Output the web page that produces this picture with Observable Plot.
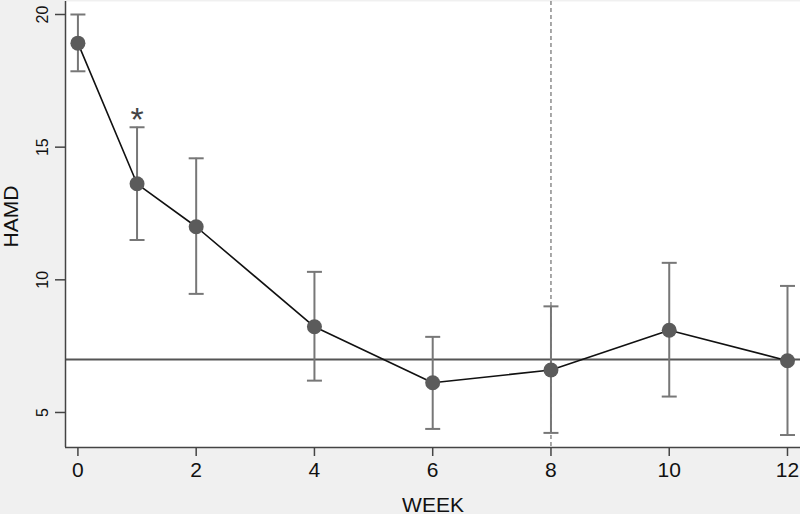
<!DOCTYPE html>
<html>
<head>
<meta charset="utf-8">
<script src="https://cdn.jsdelivr.net/npm/d3@7"></script>
<script src="https://cdn.jsdelivr.net/npm/@observablehq/plot@0.6"></script>
<style>
  html, body { margin: 0; padding: 0; background: #f0f0f0; }
  #chart svg { display: block; }
</style>
</head>
<body>
<div id="chart"></div>
<script>
const weeks = [0, 1, 2, 4, 6, 8, 10, 12];
const hamdMean = [18.92, 13.62, 12.0, 8.23, 6.12, 6.6, 8.1, 6.95];
const hamdLow = [17.86, 11.5, 9.47, 6.2, 4.38, 4.23, 5.6, 4.15];
const hamdHigh = [20.0, 15.75, 14.58, 10.3, 7.85, 9.0, 10.64, 9.77];
const xTicks = [0, 2, 4, 6, 8, 10, 12];
const yTicks = [5, 10, 15, 20];
const referenceLevel = [7];
const referenceWeek = [8];
const starWeeks = [1];
const starLabels = ["*"];
const xDomain = [-0.21, 12.22];
const yDomain = [3.68, 20.49];

const data = weeks.map((w, i) => ({week: w, mean: hamdMean[i], lo: hamdLow[i], hi: hamdHigh[i]}));
const stars = starWeeks.map((w, i) => ({week: w, label: starLabels[i], y: hamdHigh[weeks.indexOf(w)]}));

const capSymbol = {draw(ctx) { ctx.moveTo(-7.5, 0); ctx.lineTo(7.5, 0); }};
const font = "Liberation Sans, Arial, Helvetica, sans-serif";

const chart = Plot.plot({
  width: 800,
  height: 514,
  marginLeft: 65,
  marginRight: 0,
  marginTop: 1,
  marginBottom: 67,
  style: {background: "#f0f0f0", fontFamily: font},
  x: {domain: xDomain, ticks: xTicks},
  y: {domain: yDomain, ticks: yTicks},
  marks: [
    Plot.frame({fill: "white", stroke: "none"}),
    Plot.ruleX(referenceWeek, {stroke: "#7a7a7a", strokeWidth: 1.3, strokeDasharray: "4,3"}),
    Plot.ruleY(referenceLevel, {stroke: "#555", strokeWidth: 2}),
    Plot.ruleX(data, {x: "week", y1: "lo", y2: "hi", stroke: "#777", strokeWidth: 2}),
    Plot.dot(data, {x: "week", y: "lo", symbol: capSymbol, stroke: "#777", strokeWidth: 2, r: 5}),
    Plot.dot(data, {x: "week", y: "hi", symbol: capSymbol, stroke: "#777", strokeWidth: 2, r: 5}),
    Plot.line(data, {x: "week", y: "mean", stroke: "#111", strokeWidth: 1.6}),
    Plot.dot(data, {x: "week", y: "mean", r: 7.5, fill: "#5b5b5b", stroke: "none"}),
    Plot.text(stars, {x: "week", y: "y", text: "label", dy: -7, fontSize: 34, fill: "#444", fontFamily: font}),
    Plot.ruleX([xDomain[0]], {stroke: "#444", strokeWidth: 1.5}),
    Plot.ruleY([yDomain[0]], {stroke: "#444", strokeWidth: 1.5}),
    Plot.axisX({ticks: xTicks, tickSize: 9, tickPadding: 6, fontSize: 21, stroke: "#444", strokeWidth: 1.5, label: null, fill: "#111"}),
    Plot.axisY({ticks: yTicks, tickSize: 10, tickPadding: 8, fontSize: 16, tickRotate: -90, stroke: "#444", strokeWidth: 1.5, label: null, fill: "#111"}),
    Plot.text(["WEEK"], {frameAnchor: "bottom", dy: 64, fontSize: 21, fill: "#111", fontFamily: font}),
    Plot.text(["HAMD"], {frameAnchor: "left", textAnchor: "middle", dx: -54, dy: -8, rotate: -90, fontSize: 21, fill: "#111", fontFamily: font})
  ]
});
document.getElementById("chart").append(chart);
</script>
</body>
</html>
